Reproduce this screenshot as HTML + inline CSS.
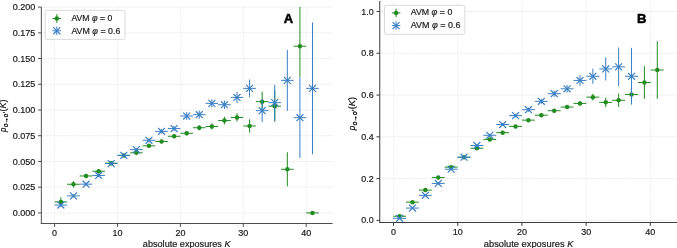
<!DOCTYPE html>
<html lang="en"><head><meta charset="utf-8"><title>AVM exposure curves</title>
<style>html,body{margin:0;padding:0;background:#fff;}body{width:677px;height:248px;overflow:hidden;}svg{display:block;will-change:transform;font-family:'Liberation Sans', sans-serif;}</style>
</head><body>
<svg width="677" height="248" viewBox="0 0 677 248">
<rect x="0" y="0" width="677" height="248" fill="#ffffff"/>
<clipPath id="clipA"><rect x="41.35" y="7.1" width="291.25" height="216.4"/></clipPath>
<g stroke="#eaeaea" stroke-width="0.8" stroke-dasharray="1.6 0.8" fill="none">
<line x1="54.6" y1="7.1" x2="54.6" y2="223.5"/>
<line x1="117.5" y1="7.1" x2="117.5" y2="223.5"/>
<line x1="180.4" y1="7.1" x2="180.4" y2="223.5"/>
<line x1="243.3" y1="7.1" x2="243.3" y2="223.5"/>
<line x1="306.2" y1="7.1" x2="306.2" y2="223.5"/>
</g>
<g stroke="#e5e5e5" stroke-width="0.8" stroke-dasharray="1.6 0.8" fill="none">
<line x1="41.35" y1="212.9" x2="332.6" y2="212.9"/>
<line x1="41.35" y1="187.18" x2="332.6" y2="187.18"/>
<line x1="41.35" y1="161.45" x2="332.6" y2="161.45"/>
<line x1="41.35" y1="135.73" x2="332.6" y2="135.73"/>
<line x1="41.35" y1="110" x2="332.6" y2="110"/>
<line x1="41.35" y1="84.28" x2="332.6" y2="84.28"/>
<line x1="41.35" y1="58.55" x2="332.6" y2="58.55"/>
<line x1="41.35" y1="32.83" x2="332.6" y2="32.83"/>
<line x1="41.35" y1="7.1" x2="332.6" y2="7.1"/>
</g>
<g clip-path="url(#clipA)">
<g stroke="#228b22" stroke-width="1.0" fill="none" stroke-opacity="1">
<line x1="54.6" y1="201.96" x2="67.18" y2="201.96"/>
<line x1="60.89" y1="206.59" x2="60.89" y2="197.33"/>
<line x1="67.18" y1="184.28" x2="79.76" y2="184.28"/>
<line x1="73.47" y1="187.36" x2="73.47" y2="181.19"/>
<line x1="79.76" y1="175.95" x2="92.34" y2="175.95"/>
<line x1="86.05" y1="178.01" x2="86.05" y2="173.89"/>
<line x1="92.34" y1="171.22" x2="104.92" y2="171.22"/>
<line x1="98.63" y1="173.28" x2="98.63" y2="169.16"/>
<line x1="104.92" y1="163.2" x2="117.5" y2="163.2"/>
<line x1="111.21" y1="164.75" x2="111.21" y2="161.66"/>
<line x1="117.5" y1="155.39" x2="130.08" y2="155.39"/>
<line x1="123.79" y1="156.93" x2="123.79" y2="153.85"/>
<line x1="130.08" y1="152.82" x2="142.66" y2="152.82"/>
<line x1="136.37" y1="154.36" x2="136.37" y2="151.28"/>
<line x1="142.66" y1="145.83" x2="155.24" y2="145.83"/>
<line x1="148.95" y1="147.37" x2="148.95" y2="144.29"/>
<line x1="155.24" y1="141.51" x2="167.82" y2="141.51"/>
<line x1="161.53" y1="143.06" x2="161.53" y2="139.97"/>
<line x1="167.82" y1="136.27" x2="180.4" y2="136.27"/>
<line x1="174.11" y1="138.33" x2="174.11" y2="134.21"/>
<line x1="180.4" y1="133.29" x2="192.98" y2="133.29"/>
<line x1="186.69" y1="135.35" x2="186.69" y2="131.23"/>
<line x1="192.98" y1="127.74" x2="205.56" y2="127.74"/>
<line x1="199.27" y1="130.31" x2="199.27" y2="125.16"/>
<line x1="205.56" y1="126.5" x2="218.14" y2="126.5"/>
<line x1="211.85" y1="129.59" x2="211.85" y2="123.42"/>
<line x1="218.14" y1="120.54" x2="230.72" y2="120.54"/>
<line x1="224.43" y1="124.35" x2="224.43" y2="116.73"/>
<line x1="230.72" y1="117.46" x2="243.3" y2="117.46"/>
<line x1="237.01" y1="121.57" x2="237.01" y2="113.34"/>
<line x1="243.3" y1="125.99" x2="255.88" y2="125.99"/>
<line x1="249.59" y1="132.68" x2="249.59" y2="119.3"/>
<line x1="255.88" y1="101.63" x2="268.46" y2="101.63"/>
<line x1="262.17" y1="111.71" x2="262.17" y2="91.54"/>
<line x1="268.46" y1="106.15" x2="281.04" y2="106.15"/>
<line x1="274.75" y1="121.89" x2="274.75" y2="90.41"/>
<line x1="281.04" y1="169.27" x2="293.62" y2="169.27"/>
<line x1="287.33" y1="186.35" x2="287.33" y2="152.19"/>
<line x1="293.62" y1="46.22" x2="306.2" y2="46.22"/>
<line x1="299.91" y1="77.43" x2="299.91" y2="-25.81"/>
<line x1="306.2" y1="212.9" x2="318.78" y2="212.9"/>
</g>
<g fill="#228b22" stroke="none">
<circle cx="60.89" cy="201.96" r="2.25"/>
<circle cx="73.47" cy="184.28" r="2.25"/>
<circle cx="86.05" cy="175.95" r="2.25"/>
<circle cx="98.63" cy="171.22" r="2.25"/>
<circle cx="111.21" cy="163.2" r="2.25"/>
<circle cx="123.79" cy="155.39" r="2.25"/>
<circle cx="136.37" cy="152.82" r="2.25"/>
<circle cx="148.95" cy="145.83" r="2.25"/>
<circle cx="161.53" cy="141.51" r="2.25"/>
<circle cx="174.11" cy="136.27" r="2.25"/>
<circle cx="186.69" cy="133.29" r="2.25"/>
<circle cx="199.27" cy="127.74" r="2.25"/>
<circle cx="211.85" cy="126.5" r="2.25"/>
<circle cx="224.43" cy="120.54" r="2.25"/>
<circle cx="237.01" cy="117.46" r="2.25"/>
<circle cx="249.59" cy="125.99" r="2.25"/>
<circle cx="262.17" cy="101.63" r="2.25"/>
<circle cx="274.75" cy="106.15" r="2.25"/>
<circle cx="287.33" cy="169.27" r="2.25"/>
<circle cx="299.91" cy="46.22" r="2.25"/>
<circle cx="312.49" cy="212.9" r="2.25"/>
</g></g>
<g clip-path="url(#clipA)">
<g stroke="#3a7fc4" stroke-width="1.0" fill="none" stroke-opacity="1">
<line x1="54.6" y1="205.04" x2="67.18" y2="205.04"/>
<line x1="60.89" y1="206.59" x2="60.89" y2="203.5"/>
<line x1="67.18" y1="195.89" x2="79.76" y2="195.89"/>
<line x1="73.47" y1="197.44" x2="73.47" y2="194.35"/>
<line x1="79.76" y1="184.17" x2="92.34" y2="184.17"/>
<line x1="86.05" y1="185.72" x2="86.05" y2="182.63"/>
<line x1="92.34" y1="175.44" x2="104.92" y2="175.44"/>
<line x1="98.63" y1="176.98" x2="98.63" y2="173.89"/>
<line x1="104.92" y1="163.61" x2="117.5" y2="163.61"/>
<line x1="111.21" y1="165.16" x2="111.21" y2="162.07"/>
<line x1="117.5" y1="155.39" x2="130.08" y2="155.39"/>
<line x1="123.79" y1="156.93" x2="123.79" y2="153.85"/>
<line x1="130.08" y1="149.63" x2="142.66" y2="149.63"/>
<line x1="136.37" y1="151.18" x2="136.37" y2="148.09"/>
<line x1="142.66" y1="140.28" x2="155.24" y2="140.28"/>
<line x1="148.95" y1="142.34" x2="148.95" y2="138.22"/>
<line x1="155.24" y1="131.34" x2="167.82" y2="131.34"/>
<line x1="161.53" y1="133.39" x2="161.53" y2="129.28"/>
<line x1="167.82" y1="128.56" x2="180.4" y2="128.56"/>
<line x1="174.11" y1="131.13" x2="174.11" y2="125.99"/>
<line x1="180.4" y1="116.02" x2="192.98" y2="116.02"/>
<line x1="186.69" y1="119.93" x2="186.69" y2="112.11"/>
<line x1="192.98" y1="114.68" x2="205.56" y2="114.68"/>
<line x1="199.27" y1="118.8" x2="199.27" y2="110.57"/>
<line x1="205.56" y1="103.37" x2="218.14" y2="103.37"/>
<line x1="211.85" y1="107.49" x2="211.85" y2="99.26"/>
<line x1="218.14" y1="104.71" x2="230.72" y2="104.71"/>
<line x1="224.43" y1="109.03" x2="224.43" y2="100.39"/>
<line x1="230.72" y1="97.41" x2="243.3" y2="97.41"/>
<line x1="237.01" y1="103.07" x2="237.01" y2="91.75"/>
<line x1="243.3" y1="88.36" x2="255.88" y2="88.36"/>
<line x1="249.59" y1="97.21" x2="249.59" y2="79.52"/>
<line x1="255.88" y1="110.67" x2="268.46" y2="110.67"/>
<line x1="262.17" y1="122.2" x2="262.17" y2="99.15"/>
<line x1="268.46" y1="102.65" x2="281.04" y2="102.65"/>
<line x1="274.75" y1="120.35" x2="274.75" y2="84.96"/>
<line x1="281.04" y1="80.35" x2="293.62" y2="80.35"/>
<line x1="287.33" y1="110.8" x2="287.33" y2="49.89"/>
<line x1="293.62" y1="117.66" x2="306.2" y2="117.66"/>
<line x1="299.91" y1="157.9" x2="299.91" y2="77.43"/>
<line x1="306.2" y1="88.36" x2="318.78" y2="88.36"/>
<line x1="312.49" y1="154.22" x2="312.49" y2="22.51"/>
</g>
<g stroke="#3a7fc4" stroke-width="1.2" fill="none">
<path d="M57.44 201.59L64.34 208.49M57.44 208.49L64.34 201.59"/>
<path d="M70.02 192.44L76.92 199.34M70.02 199.34L76.92 192.44"/>
<path d="M82.6 180.72L89.5 187.62M82.6 187.62L89.5 180.72"/>
<path d="M95.18 171.99L102.08 178.89M95.18 178.89L102.08 171.99"/>
<path d="M107.76 160.16L114.66 167.06M107.76 167.06L114.66 160.16"/>
<path d="M120.34 151.94L127.24 158.84M120.34 158.84L127.24 151.94"/>
<path d="M132.92 146.18L139.82 153.08M132.92 153.08L139.82 146.18"/>
<path d="M145.5 136.83L152.4 143.73M145.5 143.73L152.4 136.83"/>
<path d="M158.08 127.89L164.98 134.79M158.08 134.79L164.98 127.89"/>
<path d="M170.66 125.11L177.56 132.01M170.66 132.01L177.56 125.11"/>
<path d="M183.24 112.57L190.14 119.47M183.24 119.47L190.14 112.57"/>
<path d="M195.82 111.23L202.72 118.13M195.82 118.13L202.72 111.23"/>
<path d="M208.4 99.92L215.3 106.82M208.4 106.82L215.3 99.92"/>
<path d="M220.98 101.26L227.88 108.16M220.98 108.16L227.88 101.26"/>
<path d="M233.56 93.96L240.46 100.86M233.56 100.86L240.46 93.96"/>
<path d="M246.14 84.91L253.04 91.81M246.14 91.81L253.04 84.91"/>
<path d="M258.72 107.22L265.62 114.12M258.72 114.12L265.62 107.22"/>
<path d="M271.3 99.2L278.2 106.1M271.3 106.1L278.2 99.2"/>
<path d="M283.88 76.9L290.78 83.8M283.88 83.8L290.78 76.9"/>
<path d="M296.46 114.21L303.36 121.11M296.46 121.11L303.36 114.21"/>
<path d="M309.04 84.91L315.94 91.81M309.04 91.81L315.94 84.91"/>
</g></g>
<g stroke="#3c3c3c" stroke-width="0.9" fill="none">
<line x1="41.35" y1="7.1" x2="41.35" y2="223.95"/>
<line x1="40.9" y1="223.5" x2="332.6" y2="223.5"/>
<line x1="54.6" y1="223.5" x2="54.6" y2="226.9"/>
<line x1="117.5" y1="223.5" x2="117.5" y2="226.9"/>
<line x1="180.4" y1="223.5" x2="180.4" y2="226.9"/>
<line x1="243.3" y1="223.5" x2="243.3" y2="226.9"/>
<line x1="306.2" y1="223.5" x2="306.2" y2="226.9"/>
<line x1="38.05" y1="212.9" x2="41.35" y2="212.9"/>
<line x1="38.05" y1="187.18" x2="41.35" y2="187.18"/>
<line x1="38.05" y1="161.45" x2="41.35" y2="161.45"/>
<line x1="38.05" y1="135.73" x2="41.35" y2="135.73"/>
<line x1="38.05" y1="110" x2="41.35" y2="110"/>
<line x1="38.05" y1="84.28" x2="41.35" y2="84.28"/>
<line x1="38.05" y1="58.55" x2="41.35" y2="58.55"/>
<line x1="38.05" y1="32.83" x2="41.35" y2="32.83"/>
<line x1="38.05" y1="7.1" x2="41.35" y2="7.1"/>
</g>
<g fill="#1a1a1a" stroke="#1a1a1a" stroke-width="0.18">
<text x="54.6" y="236.2" font-size="8.2" text-anchor="middle" textLength="5" lengthAdjust="spacingAndGlyphs" >0</text>
<text x="117.5" y="236.2" font-size="8.2" text-anchor="middle" textLength="10" lengthAdjust="spacingAndGlyphs" >10</text>
<text x="180.4" y="236.2" font-size="8.2" text-anchor="middle" textLength="10" lengthAdjust="spacingAndGlyphs" >20</text>
<text x="243.3" y="236.2" font-size="8.2" text-anchor="middle" textLength="10" lengthAdjust="spacingAndGlyphs" >30</text>
<text x="306.2" y="236.2" font-size="8.2" text-anchor="middle" textLength="10" lengthAdjust="spacingAndGlyphs" >40</text>
<text x="35.25" y="215.95" font-size="8.2" text-anchor="end" textLength="22.6" lengthAdjust="spacingAndGlyphs" >0.000</text>
<text x="35.25" y="190.23" font-size="8.2" text-anchor="end" textLength="22.6" lengthAdjust="spacingAndGlyphs" >0.025</text>
<text x="35.25" y="164.5" font-size="8.2" text-anchor="end" textLength="22.6" lengthAdjust="spacingAndGlyphs" >0.050</text>
<text x="35.25" y="138.78" font-size="8.2" text-anchor="end" textLength="22.6" lengthAdjust="spacingAndGlyphs" >0.075</text>
<text x="35.25" y="113.05" font-size="8.2" text-anchor="end" textLength="22.6" lengthAdjust="spacingAndGlyphs" >0.100</text>
<text x="35.25" y="87.33" font-size="8.2" text-anchor="end" textLength="22.6" lengthAdjust="spacingAndGlyphs" >0.125</text>
<text x="35.25" y="61.6" font-size="8.2" text-anchor="end" textLength="22.6" lengthAdjust="spacingAndGlyphs" >0.150</text>
<text x="35.25" y="35.88" font-size="8.2" text-anchor="end" textLength="22.6" lengthAdjust="spacingAndGlyphs" >0.175</text>
<text x="35.25" y="10.15" font-size="8.2" text-anchor="end" textLength="22.6" lengthAdjust="spacingAndGlyphs" >0.200</text>
</g>
<rect x="45.2" y="10.4" width="79.8" height="29" rx="1.6" ry="1.6" fill="#ffffff" fill-opacity="0.8" stroke="#d0d0d0" stroke-width="0.8"/>
<g stroke="#228b22" stroke-width="1.0" stroke-opacity="1"><line x1="52.5" y1="18.5" x2="61.1" y2="18.5"/><line x1="56.8" y1="14.2" x2="56.8" y2="22.8"/></g>
<circle cx="56.8" cy="18.5" r="2.25" fill="#228b22"/>
<g stroke="#3a7fc4" stroke-width="1.0" stroke-opacity="1"><line x1="52.5" y1="30.8" x2="61.1" y2="30.8"/><line x1="56.8" y1="26.5" x2="56.8" y2="35.1"/></g>
<path d="M53.35 27.35L60.25 34.25M53.35 34.25L60.25 27.35" stroke="#3a7fc4" stroke-width="1.2" fill="none"/>
<g fill="#1a1a1a" stroke="#1a1a1a" stroke-width="0.18">
<text x="71.4" y="21" font-size="8.2" text-anchor="start" textLength="40.8" lengthAdjust="spacingAndGlyphs" >AVM <tspan font-style="italic">&#966;</tspan> = 0</text>
<text x="71.4" y="34" font-size="8.2" text-anchor="start" textLength="48.9" lengthAdjust="spacingAndGlyphs" >AVM <tspan font-style="italic">&#966;</tspan> = 0.6</text>
</g>
<g fill="#1a1a1a" stroke="#1a1a1a" stroke-width="0.18">
<text x="186.7" y="246.6" font-size="8.2" text-anchor="middle" textLength="87.7" lengthAdjust="spacingAndGlyphs" >absolute exposures <tspan font-style="italic">K</tspan></text>
<text x="288.4" y="23.4" font-size="13" text-anchor="middle" textLength="9.4" lengthAdjust="spacingAndGlyphs" font-weight="bold" fill="#000" stroke="#000" stroke-width="0.55" stroke-linejoin="round">A</text>
<g transform="translate(6 132) rotate(-90)" fill="#000" font-style="italic">
<text x="0" y="0" font-size="8.2" textLength="4.3" lengthAdjust="spacingAndGlyphs">p</text>
<text x="5" y="1.9" font-size="6.6" stroke="#000" stroke-width="0.3" textLength="14.6" lengthAdjust="spacingAndGlyphs">o&#8594;o&#8242;</text>
<text x="20.4" y="0" font-size="8.2" textLength="12" lengthAdjust="spacingAndGlyphs"><tspan font-style="normal">(</tspan>K<tspan font-style="normal">)</tspan></text>
</g>
</g>
<clipPath id="clipB"><rect x="379.75" y="1" width="297.25" height="221.5"/></clipPath>
<g stroke="#eaeaea" stroke-width="0.8" stroke-dasharray="1.6 0.8" fill="none">
<line x1="393.55" y1="1" x2="393.55" y2="222.5"/>
<line x1="457.75" y1="1" x2="457.75" y2="222.5"/>
<line x1="521.95" y1="1" x2="521.95" y2="222.5"/>
<line x1="586.15" y1="1" x2="586.15" y2="222.5"/>
<line x1="650.35" y1="1" x2="650.35" y2="222.5"/>
</g>
<g stroke="#e5e5e5" stroke-width="0.8" stroke-dasharray="1.6 0.8" fill="none">
<line x1="379.75" y1="220.4" x2="677" y2="220.4"/>
<line x1="379.75" y1="178.62" x2="677" y2="178.62"/>
<line x1="379.75" y1="136.84" x2="677" y2="136.84"/>
<line x1="379.75" y1="95.06" x2="677" y2="95.06"/>
<line x1="379.75" y1="53.28" x2="677" y2="53.28"/>
<line x1="379.75" y1="11.5" x2="677" y2="11.5"/>
</g>
<g clip-path="url(#clipB)">
<g stroke="#228b22" stroke-width="1.0" fill="none" stroke-opacity="1">
<line x1="393.15" y1="216.22" x2="406.03" y2="216.22"/>
<line x1="399.59" y1="216.85" x2="399.59" y2="215.6"/>
<line x1="406.03" y1="202.14" x2="418.92" y2="202.14"/>
<line x1="412.48" y1="202.98" x2="412.48" y2="201.31"/>
<line x1="418.92" y1="190.11" x2="431.8" y2="190.11"/>
<line x1="425.36" y1="190.95" x2="425.36" y2="189.27"/>
<line x1="431.8" y1="177.58" x2="444.69" y2="177.58"/>
<line x1="438.25" y1="178.41" x2="438.25" y2="176.74"/>
<line x1="444.69" y1="167.13" x2="457.57" y2="167.13"/>
<line x1="451.13" y1="167.97" x2="451.13" y2="166.29"/>
<line x1="457.57" y1="157.19" x2="470.46" y2="157.19"/>
<line x1="464.02" y1="158.02" x2="464.02" y2="156.35"/>
<line x1="470.46" y1="148.29" x2="483.34" y2="148.29"/>
<line x1="476.9" y1="149.12" x2="476.9" y2="147.45"/>
<line x1="483.34" y1="139.43" x2="496.23" y2="139.43"/>
<line x1="489.79" y1="140.27" x2="489.79" y2="138.59"/>
<line x1="496.23" y1="132.66" x2="509.12" y2="132.66"/>
<line x1="502.67" y1="133.5" x2="502.67" y2="131.83"/>
<line x1="509.12" y1="126.39" x2="522" y2="126.39"/>
<line x1="515.56" y1="127.44" x2="515.56" y2="125.35"/>
<line x1="522" y1="120.13" x2="534.88" y2="120.13"/>
<line x1="528.44" y1="121.17" x2="528.44" y2="119.08"/>
<line x1="534.88" y1="115.2" x2="547.77" y2="115.2"/>
<line x1="541.33" y1="116.45" x2="541.33" y2="113.94"/>
<line x1="547.77" y1="110.73" x2="560.65" y2="110.73"/>
<line x1="554.21" y1="112.19" x2="554.21" y2="109.27"/>
<line x1="560.65" y1="107.05" x2="573.54" y2="107.05"/>
<line x1="567.1" y1="108.72" x2="567.1" y2="105.38"/>
<line x1="573.54" y1="103.42" x2="586.42" y2="103.42"/>
<line x1="579.98" y1="105.5" x2="579.98" y2="101.33"/>
<line x1="586.42" y1="97.15" x2="599.31" y2="97.15"/>
<line x1="592.87" y1="100.49" x2="592.87" y2="93.81"/>
<line x1="599.31" y1="102.37" x2="612.19" y2="102.37"/>
<line x1="605.75" y1="107.18" x2="605.75" y2="97.57"/>
<line x1="612.19" y1="100.28" x2="625.08" y2="100.28"/>
<line x1="618.64" y1="106.97" x2="618.64" y2="93.6"/>
<line x1="625.08" y1="94.52" x2="637.96" y2="94.52"/>
<line x1="631.52" y1="104.13" x2="631.52" y2="84.91"/>
<line x1="637.96" y1="82.53" x2="650.85" y2="82.53"/>
<line x1="644.41" y1="98.82" x2="644.41" y2="66.23"/>
<line x1="650.85" y1="69.99" x2="663.73" y2="69.99"/>
<line x1="657.29" y1="98.82" x2="657.29" y2="41.16"/>
</g>
<g fill="#228b22" stroke="none">
<circle cx="399.59" cy="216.22" r="2.25"/>
<circle cx="412.48" cy="202.14" r="2.25"/>
<circle cx="425.36" cy="190.11" r="2.25"/>
<circle cx="438.25" cy="177.58" r="2.25"/>
<circle cx="451.13" cy="167.13" r="2.25"/>
<circle cx="464.02" cy="157.19" r="2.25"/>
<circle cx="476.9" cy="148.29" r="2.25"/>
<circle cx="489.79" cy="139.43" r="2.25"/>
<circle cx="502.67" cy="132.66" r="2.25"/>
<circle cx="515.56" cy="126.39" r="2.25"/>
<circle cx="528.44" cy="120.13" r="2.25"/>
<circle cx="541.33" cy="115.2" r="2.25"/>
<circle cx="554.21" cy="110.73" r="2.25"/>
<circle cx="567.1" cy="107.05" r="2.25"/>
<circle cx="579.98" cy="103.42" r="2.25"/>
<circle cx="592.87" cy="97.15" r="2.25"/>
<circle cx="605.75" cy="102.37" r="2.25"/>
<circle cx="618.64" cy="100.28" r="2.25"/>
<circle cx="631.52" cy="94.52" r="2.25"/>
<circle cx="644.41" cy="82.53" r="2.25"/>
<circle cx="657.29" cy="69.99" r="2.25"/>
</g></g>
<g clip-path="url(#clipB)">
<g stroke="#3a7fc4" stroke-width="1.0" fill="none" stroke-opacity="1">
<line x1="393.15" y1="218.27" x2="406.03" y2="218.27"/>
<line x1="399.59" y1="218.9" x2="399.59" y2="217.64"/>
<line x1="406.03" y1="208.07" x2="418.92" y2="208.07"/>
<line x1="412.48" y1="208.91" x2="412.48" y2="207.24"/>
<line x1="418.92" y1="195.33" x2="431.8" y2="195.33"/>
<line x1="425.36" y1="196.17" x2="425.36" y2="194.5"/>
<line x1="431.8" y1="183.42" x2="444.69" y2="183.42"/>
<line x1="438.25" y1="184.26" x2="438.25" y2="182.59"/>
<line x1="444.69" y1="169.22" x2="457.57" y2="169.22"/>
<line x1="451.13" y1="170.06" x2="451.13" y2="168.38"/>
<line x1="457.57" y1="157.23" x2="470.46" y2="157.23"/>
<line x1="464.02" y1="158.27" x2="464.02" y2="156.18"/>
<line x1="470.46" y1="145.49" x2="483.34" y2="145.49"/>
<line x1="476.9" y1="146.53" x2="476.9" y2="144.44"/>
<line x1="483.34" y1="135.29" x2="496.23" y2="135.29"/>
<line x1="489.79" y1="136.55" x2="489.79" y2="134.04"/>
<line x1="496.23" y1="124.51" x2="509.12" y2="124.51"/>
<line x1="502.67" y1="125.98" x2="502.67" y2="123.05"/>
<line x1="509.12" y1="115.64" x2="522" y2="115.64"/>
<line x1="515.56" y1="117.31" x2="515.56" y2="113.97"/>
<line x1="522" y1="109.68" x2="534.88" y2="109.68"/>
<line x1="528.44" y1="111.77" x2="528.44" y2="107.59"/>
<line x1="534.88" y1="101.33" x2="547.77" y2="101.33"/>
<line x1="541.33" y1="103.83" x2="541.33" y2="98.82"/>
<line x1="547.77" y1="93.72" x2="560.65" y2="93.72"/>
<line x1="554.21" y1="96.86" x2="554.21" y2="90.59"/>
<line x1="560.65" y1="88.79" x2="573.54" y2="88.79"/>
<line x1="567.1" y1="92.55" x2="567.1" y2="85.03"/>
<line x1="573.54" y1="80.44" x2="586.42" y2="80.44"/>
<line x1="579.98" y1="86.08" x2="579.98" y2="74.8"/>
<line x1="586.42" y1="76.26" x2="599.31" y2="76.26"/>
<line x1="592.87" y1="83.78" x2="592.87" y2="68.74"/>
<line x1="599.31" y1="68.95" x2="612.19" y2="68.95"/>
<line x1="605.75" y1="80.54" x2="605.75" y2="57.35"/>
<line x1="612.19" y1="66.86" x2="625.08" y2="66.86"/>
<line x1="618.64" y1="86.2" x2="618.64" y2="47.51"/>
<line x1="625.08" y1="76.26" x2="637.96" y2="76.26"/>
<line x1="631.52" y1="104.67" x2="631.52" y2="47.85"/>
</g>
<g stroke="#3a7fc4" stroke-width="1.2" fill="none">
<path d="M396.14 214.82L403.04 221.72M396.14 221.72L403.04 214.82"/>
<path d="M409.03 204.62L415.93 211.52M409.03 211.52L415.93 204.62"/>
<path d="M421.91 191.88L428.81 198.78M421.91 198.78L428.81 191.88"/>
<path d="M434.8 179.97L441.7 186.87M434.8 186.87L441.7 179.97"/>
<path d="M447.68 165.77L454.58 172.67M447.68 172.67L454.58 165.77"/>
<path d="M460.57 153.78L467.47 160.68M460.57 160.68L467.47 153.78"/>
<path d="M473.45 142.04L480.35 148.94M473.45 148.94L480.35 142.04"/>
<path d="M486.34 131.84L493.24 138.74M486.34 138.74L493.24 131.84"/>
<path d="M499.22 121.06L506.12 127.96M499.22 127.96L506.12 121.06"/>
<path d="M512.11 112.19L519.01 119.09M512.11 119.09L519.01 112.19"/>
<path d="M524.99 106.23L531.89 113.13M524.99 113.13L531.89 106.23"/>
<path d="M537.88 97.88L544.78 104.78M537.88 104.78L544.78 97.88"/>
<path d="M550.76 90.27L557.66 97.17M550.76 97.17L557.66 90.27"/>
<path d="M563.65 85.34L570.55 92.24M563.65 92.24L570.55 85.34"/>
<path d="M576.53 76.99L583.43 83.89M576.53 83.89L583.43 76.99"/>
<path d="M589.42 72.81L596.32 79.71M589.42 79.71L596.32 72.81"/>
<path d="M602.3 65.5L609.2 72.4M602.3 72.4L609.2 65.5"/>
<path d="M615.19 63.41L622.09 70.31M615.19 70.31L622.09 63.41"/>
<path d="M628.07 72.81L634.97 79.71M628.07 79.71L634.97 72.81"/>
</g></g>
<g stroke="#3c3c3c" stroke-width="1.0" fill="none">
<line x1="379.75" y1="1" x2="379.75" y2="222.95"/>
<line x1="379.3" y1="222.5" x2="677" y2="222.5"/>
<line x1="393.55" y1="222.5" x2="393.55" y2="225.9"/>
<line x1="457.75" y1="222.5" x2="457.75" y2="225.9"/>
<line x1="521.95" y1="222.5" x2="521.95" y2="225.9"/>
<line x1="586.15" y1="222.5" x2="586.15" y2="225.9"/>
<line x1="650.35" y1="222.5" x2="650.35" y2="225.9"/>
<line x1="376.45" y1="220.4" x2="379.75" y2="220.4"/>
<line x1="376.45" y1="178.62" x2="379.75" y2="178.62"/>
<line x1="376.45" y1="136.84" x2="379.75" y2="136.84"/>
<line x1="376.45" y1="95.06" x2="379.75" y2="95.06"/>
<line x1="376.45" y1="53.28" x2="379.75" y2="53.28"/>
<line x1="376.45" y1="11.5" x2="379.75" y2="11.5"/>
</g>
<g fill="#1a1a1a" stroke="#1a1a1a" stroke-width="0.18">
<text x="393.55" y="235.2" font-size="8.2" text-anchor="middle" textLength="5" lengthAdjust="spacingAndGlyphs" >0</text>
<text x="457.75" y="235.2" font-size="8.2" text-anchor="middle" textLength="10" lengthAdjust="spacingAndGlyphs" >10</text>
<text x="521.95" y="235.2" font-size="8.2" text-anchor="middle" textLength="10" lengthAdjust="spacingAndGlyphs" >20</text>
<text x="586.15" y="235.2" font-size="8.2" text-anchor="middle" textLength="10" lengthAdjust="spacingAndGlyphs" >30</text>
<text x="650.35" y="235.2" font-size="8.2" text-anchor="middle" textLength="10" lengthAdjust="spacingAndGlyphs" >40</text>
<text x="373.65" y="223.45" font-size="8.2" text-anchor="end" textLength="12.4" lengthAdjust="spacingAndGlyphs" >0.0</text>
<text x="373.65" y="181.67" font-size="8.2" text-anchor="end" textLength="12.4" lengthAdjust="spacingAndGlyphs" >0.2</text>
<text x="373.65" y="139.89" font-size="8.2" text-anchor="end" textLength="12.4" lengthAdjust="spacingAndGlyphs" >0.4</text>
<text x="373.65" y="98.11" font-size="8.2" text-anchor="end" textLength="12.4" lengthAdjust="spacingAndGlyphs" >0.6</text>
<text x="373.65" y="56.33" font-size="8.2" text-anchor="end" textLength="12.4" lengthAdjust="spacingAndGlyphs" >0.8</text>
<text x="373.65" y="14.55" font-size="8.2" text-anchor="end" textLength="12.4" lengthAdjust="spacingAndGlyphs" >1.0</text>
</g>
<rect x="384.5" y="5.3" width="80.4" height="29" rx="1.6" ry="1.6" fill="#ffffff" fill-opacity="0.8" stroke="#d0d0d0" stroke-width="0.8"/>
<g stroke="#228b22" stroke-width="1.0" stroke-opacity="1"><line x1="391.8" y1="12.9" x2="400.4" y2="12.9"/><line x1="396.1" y1="8.6" x2="396.1" y2="17.2"/></g>
<circle cx="396.1" cy="12.9" r="2.25" fill="#228b22"/>
<g stroke="#3a7fc4" stroke-width="1.0" stroke-opacity="1"><line x1="391.8" y1="25.6" x2="400.4" y2="25.6"/><line x1="396.1" y1="21.3" x2="396.1" y2="29.9"/></g>
<path d="M392.65 22.15L399.55 29.05M392.65 29.05L399.55 22.15" stroke="#3a7fc4" stroke-width="1.2" fill="none"/>
<g fill="#1a1a1a" stroke="#1a1a1a" stroke-width="0.18">
<text x="410.7" y="15" font-size="8.2" text-anchor="start" textLength="41.6" lengthAdjust="spacingAndGlyphs" >AVM <tspan font-style="italic">&#966;</tspan> = 0</text>
<text x="410.7" y="28" font-size="8.2" text-anchor="start" textLength="49.7" lengthAdjust="spacingAndGlyphs" >AVM <tspan font-style="italic">&#966;</tspan> = 0.6</text>
</g>
<g fill="#1a1a1a" stroke="#1a1a1a" stroke-width="0.18">
<text x="528.6" y="246.6" font-size="8.2" text-anchor="middle" textLength="89.6" lengthAdjust="spacingAndGlyphs" >absolute exposures <tspan font-style="italic">K</tspan></text>
<text x="641.8" y="23.4" font-size="13" text-anchor="middle" textLength="9.4" lengthAdjust="spacingAndGlyphs" font-weight="bold" fill="#000" stroke="#000" stroke-width="0.55" stroke-linejoin="round">B</text>
<g transform="translate(354.9 130.3) rotate(-90)" fill="#000" font-style="italic">
<text x="0" y="0" font-size="8.2" textLength="4.43" lengthAdjust="spacingAndGlyphs">p</text>
<text x="5.15" y="1.9" font-size="6.6" stroke="#000" stroke-width="0.3" textLength="15.04" lengthAdjust="spacingAndGlyphs">o&#8594;o&#8242;</text>
<text x="21.01" y="0" font-size="8.2" textLength="12.36" lengthAdjust="spacingAndGlyphs"><tspan font-style="normal">(</tspan>K<tspan font-style="normal">)</tspan></text>
</g>
</g>
</svg>
</body></html>
